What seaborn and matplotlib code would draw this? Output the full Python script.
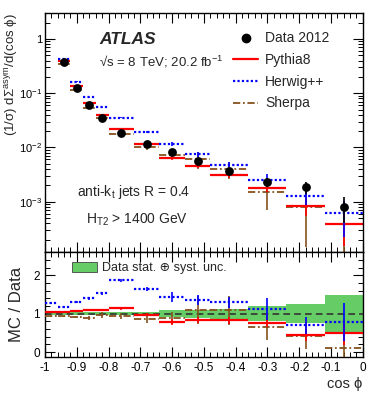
import numpy as np
import pandas as pd
import matplotlib
matplotlib.use("Agg")
import matplotlib.pyplot as plt
import matplotlib.ticker as mticker
from matplotlib.lines import Line2D
from matplotlib.patches import Patch
import seaborn as sns

# bin edges in cos(phi)
edges = [-1.0, -0.96, -0.92, -0.88, -0.84, -0.80, -0.72, -0.64, -0.56, -0.48, -0.36, -0.24, -0.12, 0.0]

# top panel data (bins from -0.96 on)
data_vals = [0.372, 0.126, 0.0605, 0.0355, 0.0188, 0.0118, 0.0082, 0.00553, 0.00372, 0.00229, 0.00185, 0.00081]

# MC / Data ratios (all 13 bins)
pythia_ratio = [1.05, 1.05, 1.07, 1.10, 1.10, 1.14, 0.97, 0.79, 0.83, 0.83, 0.77, 0.45, 0.49]
herwig_ratio = [1.28, 1.17, 1.30, 1.40, 1.54, 1.87, 1.645, 1.44, 1.35, 1.30, 1.12, 0.70, 0.78]
sherpa_ratio = [0.93, 0.93, 0.92, 0.89, 0.97, 0.95, 0.87, 0.89, 1.10, 1.09, 0.66, 0.43, 0.11]
pythia_err = [0.02, 0.02, 0.02, 0.02, 0.03, 0.04, 0.04, 0.07, 0.08, 0.09, 0.12, 0.15, 0.3]
herwig_err = [0.02, 0.02, 0.03, 0.03, 0.04, 0.05, 0.06, 0.12, 0.13, 0.15, 0.28, 0.22, 0.5]
sherpa_err = [0.02, 0.02, 0.03, 0.05, 0.08, 0.08, 0.1, 0.15, 0.37, 0.37, 0.35, 0.35, 0.75]
band_unc = [0.04, 0.04, 0.04, 0.04, 0.04, 0.04, 0.05, 0.09, 0.1, 0.13, 0.2, 0.25, 0.5]

sns.set_theme(style="ticks")
plt.rcParams['font.family'] = ['Liberation Sans', 'DejaVu Sans']
plt.rcParams['mathtext.fontset'] = 'custom'
plt.rcParams['mathtext.rm'] = 'Liberation Sans'
plt.rcParams['mathtext.it'] = 'Liberation Sans:italic'
plt.rcParams['mathtext.bf'] = 'Liberation Sans:bold'

RED = "#ff0000"
BLUE = "#0000ff"
BROWN = "#86511d"
GREEN = "#66cc66"
DOT = (0, (1, 1))
DASHDOT = (0, (4, 1.5, 1, 1.5))

edges = np.array(edges)
centers = (edges[:-1] + edges[1:]) / 2
data = np.array(data_vals)
top_lo, top_hi, top_c = edges[1:-1], edges[2:], centers[1:]

mc = {
    "Sherpa": (np.array(sherpa_ratio), np.array(sherpa_err), BROWN, DASHDOT, 1.3),
    "Pythia8": (np.array(pythia_ratio), np.array(pythia_err), RED, "solid", 1.6),
    "Herwig++": (np.array(herwig_ratio), np.array(herwig_err), BLUE, DOT, 1.6),
}

fig = plt.figure(figsize=(3.82, 3.98), dpi=100)
ax = fig.add_axes([0.1178, 0.3676, 0.8317, 0.5997])
rx = fig.add_axes([0.1178, 0.1038, 0.8317, 0.2638], sharex=ax)

# ---- top panel
for name, (r, e, col, ls, lw) in mc.items():
    vals = r[1:] * data
    ax.hlines(vals, top_lo, top_hi, colors=col, linestyles=ls, linewidth=lw)
    ax.errorbar(top_c, vals, yerr=e[1:] * data, fmt="none", ecolor=col, elinewidth=1.2)

data_err = np.array(band_unc[1:]) * data
ax.errorbar(top_c, data, yerr=data_err, fmt="none", ecolor="black", elinewidth=1.2)
df = pd.DataFrame({"x": top_c, "y": data})
sns.scatterplot(data=df, x="x", y="y", ax=ax, color="black", s=40, edgecolor="black", linewidth=0, zorder=5)

ax.set_yscale("log")
ax.set_ylim(1.2e-4, 3.0)
ax.set_xlim(-1, 0)
ax.set_xlabel("")


def log_fmt(v, pos):
    p = int(round(np.log10(v)))
    return "1" if p == 0 else "$10^{%d}$" % p


ax.yaxis.set_major_locator(mticker.LogLocator(base=10, numticks=10))
ax.yaxis.set_minor_locator(mticker.LogLocator(base=10, subs=np.arange(2, 10), numticks=20))
ax.yaxis.set_major_formatter(mticker.FuncFormatter(log_fmt))
ax.yaxis.set_minor_formatter(mticker.NullFormatter())
ax.set_ylabel("(1/σ) dΣ$^{\\mathrm{asym}}$/d(cos ϕ)", fontsize=9.5, loc="top")
ax.yaxis.set_label_coords(-0.078, 1.0)

ax.text(0.17, 0.887, "ATLAS", transform=ax.transAxes, fontsize=12.5, fontweight="bold",
        fontstyle="italic", va="center")
ax.text(0.17, 0.795, "√s = 8 TeV; 20.2 fb$^{-1}$", transform=ax.transAxes, fontsize=9.5, va="center")
ax.text(0.10, 0.25, "anti-k$_{\\mathrm{t}}$ jets R = 0.4", transform=ax.transAxes, fontsize=10, va="center")
ax.text(0.13, 0.132, "H$_{\\mathrm{T2}}$ > 1400 GeV", transform=ax.transAxes, fontsize=10, va="center")

handles = [
    Line2D([], [], color="black", marker="o", linestyle="none", markersize=6),
    Line2D([], [], color=RED, linewidth=1.6),
    Line2D([], [], color=BLUE, linestyle=DOT, linewidth=1.6),
    Line2D([], [], color=BROWN, linestyle=DASHDOT, linewidth=1.3),
]
ax.legend(handles, ["Data 2012", "Pythia8", "Herwig++", "Sherpa"], loc="upper left",
          bbox_to_anchor=(0.575, 0.946), frameon=False, fontsize=10, handlelength=1.8,
          handletextpad=0.5, labelspacing=0.55, borderaxespad=0)

# ---- ratio panel
band = np.array(band_unc)
rx.fill_between(edges, np.append(1 + band, 1 + band[-1]), np.append(1 - band, 1 - band[-1]),
                step="post", color=GREEN, linewidth=0, zorder=1)
rx.axhline(1, color="#333333", linestyle=(0, (4, 2.5)), linewidth=1.2, zorder=2)
for name, (r, e, col, ls, lw) in mc.items():
    rx.hlines(r, edges[:-1], edges[1:], colors=col, linestyles=ls, linewidth=lw, zorder=3)
    rx.errorbar(centers, r, yerr=e, fmt="none", ecolor=col, elinewidth=1.2, zorder=3)

rx.set_ylim(-0.12, 2.62)
rx.set_xlim(-1, 0)
rx.yaxis.set_major_locator(mticker.FixedLocator([0, 1, 2]))
rx.yaxis.set_minor_locator(mticker.MultipleLocator(0.2))
rx.xaxis.set_major_locator(mticker.MultipleLocator(0.1))
rx.xaxis.set_minor_locator(mticker.MultipleLocator(0.02))
rx.xaxis.set_major_formatter(mticker.FuncFormatter(lambda v, p: "%g" % round(v, 2) if abs(v) > 1e-9 else "0"))
rx.set_ylabel("MC / Data", fontsize=12)
rx.yaxis.set_label_coords(-0.066, 0.5)
rx.set_xlabel("cos ϕ", fontsize=10.5, loc="right")
rx.xaxis.set_label_coords(1.0, -0.19)

rx.legend([Patch(facecolor=GREEN, edgecolor="#444444", linewidth=0.6)],
          ["Data stat. ⊕ syst. unc."], loc="upper left", bbox_to_anchor=(0.07, 0.95),
          frameon=False, fontsize=9, handlelength=2.0, handleheight=0.9, handletextpad=0.4,
          borderaxespad=0)

for a in (ax, rx):
    for s in a.spines.values():
        s.set_linewidth(1.0)
        s.set_color("black")
    a.tick_params(which="both", direction="in", top=True, right=True, colors="black")
    a.tick_params(which="major", length=7, width=0.8)
    a.tick_params(which="minor", length=3.5, width=0.7)
    a.grid(False)
ax.tick_params(axis="y", labelsize=8, pad=2)
ax.tick_params(axis="x", labelbottom=False)
rx.tick_params(axis="both", labelsize=8.5)

fig.savefig("out.png", dpi=100)
